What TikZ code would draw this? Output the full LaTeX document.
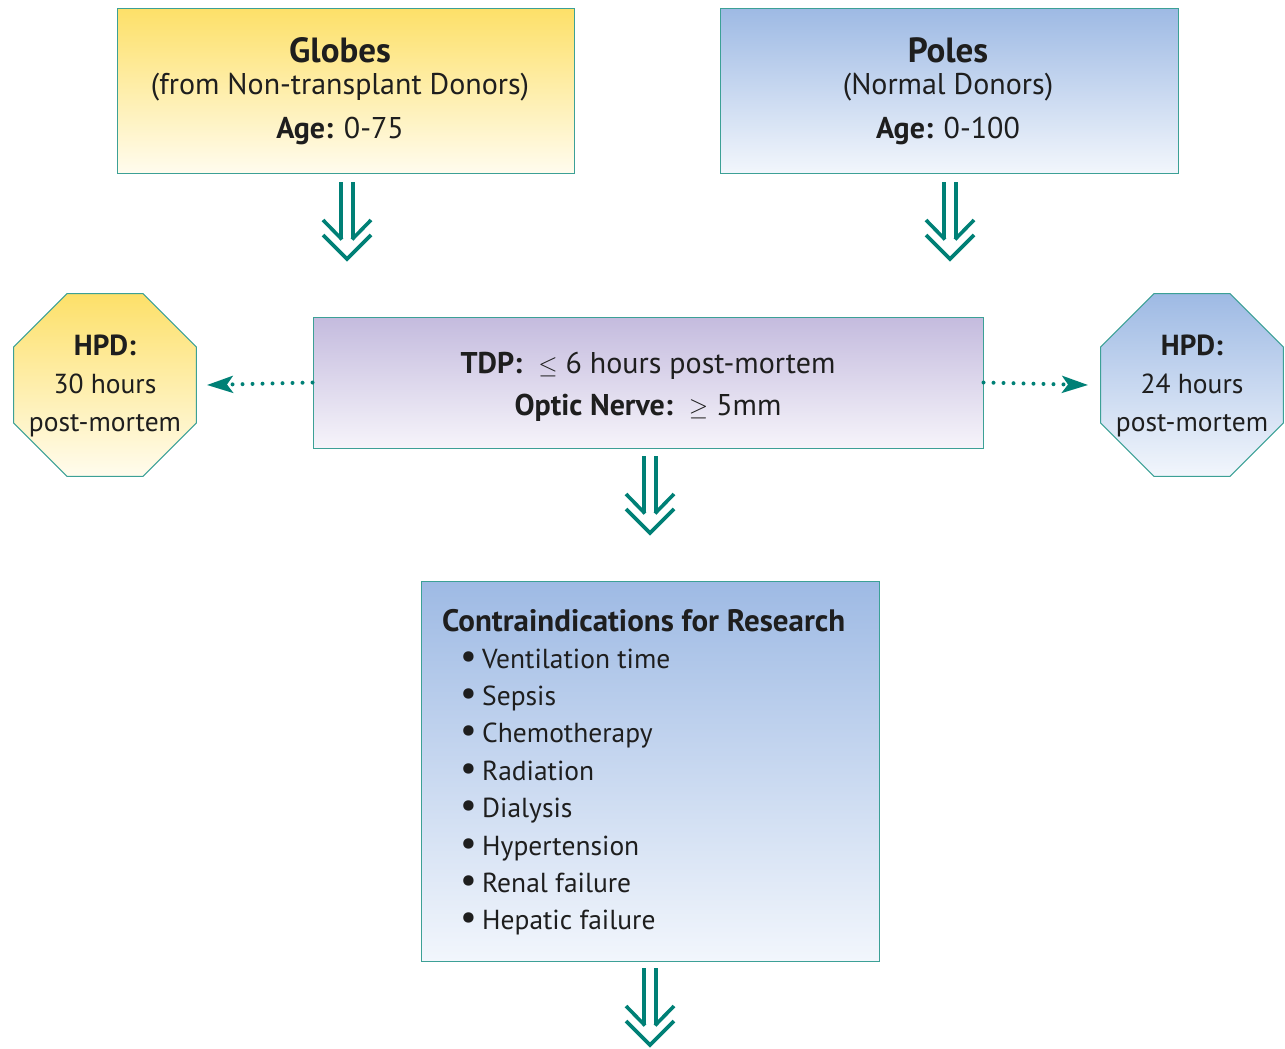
\documentclass[tikz,border=0pt]{standalone}
\usepackage{fontspec}
\usepackage{graphicx}
\setmainfont{PT Sans}
\usetikzlibrary{shapes.geometric,arrows.meta}
\definecolor{teal1}{RGB}{0,128,118}
\definecolor{boxline}{RGB}{60,160,150}
\definecolor{ytop}{RGB}{253,224,105}
\definecolor{ybot}{RGB}{255,252,238}
\definecolor{btop}{RGB}{158,186,228}
\definecolor{bbot}{RGB}{242,246,252}
\definecolor{ptop}{RGB}{196,187,222}
\definecolor{pbot}{RGB}{246,244,250}
\definecolor{txt}{RGB}{30,30,30}
\newcommand\fBig{\fontsize{35}{38}\selectfont}
\newcommand\fMid{\fontsize{30}{33}\selectfont}
\newcommand\fSm{\fontsize{27.5}{30}\selectfont}
\newcommand\fTitle{\fontsize{31}{34}\selectfont}
\newcommand\mybul{\makebox[22pt][l]{\scalebox{1.35}{\textbullet}}}
\tikzset{
  box/.style={draw=boxline, line width=1pt, inner sep=0pt, rectangle},
  octo/.style={draw=boxline, line width=1pt, inner sep=0pt, regular polygon, regular polygon sides=8, minimum size=198pt},
  lbl/.style={text=txt, inner sep=0pt, anchor=base},
  arr/.style={draw=teal1, line width=3.6pt},
  dotarrow/.style={draw=teal1, line width=4pt, line cap=round, dash pattern=on 0pt off 10pt, -{Stealth[length=26pt,width=17pt,inset=6pt,line cap=butt]}},
  dblarrow/.pic={
    \draw[arr] (-6,0) -- (-6,57);
    \draw[arr] (6,0) -- (6,57);
    \draw[arr] (-24,38) -- (-5,57.5);
    \draw[arr] (24,38) -- (5,57.5);
    \draw[arr, miter limit=10] (-24,53) -- (0,77) -- (24,53);
  }
}
\begin{document}
\begin{tikzpicture}[x=1pt,y=-1pt]
\useasboundingbox (0,0) rectangle (1285,1049);
% boxes
\node[box, top color=ytop, bottom color=ybot, minimum width=457pt, minimum height=164pt] (globes) at (345.5,91) {};
\node[box, top color=btop, bottom color=bbot, minimum width=458pt, minimum height=164pt] (poles) at (949,91) {};
\node[box, top color=ptop, bottom color=pbot, minimum width=670pt, minimum height=131pt] (tdp) at (648,382.5) {};
\node[box, top color=btop, bottom color=bbot, minimum width=458pt, minimum height=380pt] (contra) at (650,771) {};
\node[octo, top color=ytop, bottom color=ybot] (hpdl) at (105,385) {};
\node[octo, top color=btop, bottom color=bbot] (hpdr) at (1192,385) {};
% texts
\node[lbl] (g1) at (340,63) {\fBig\bfseries Globes};
\node[lbl] (g2) at (340,95) {\fMid (from Non-transplant Donors)};
\node[lbl] (g3) at (340,138) {\fMid\textbf{Age:} 0-75};
\node[lbl] (p1) at (948,63) {\fBig\bfseries Poles};
\node[lbl] (p2) at (948,95) {\fMid (Normal Donors)};
\node[lbl] (p3) at (948,138) {\fMid\textbf{Age:} 0-100};
\node[lbl] (t1) at (648,373) {\fMid\textbf{TDP:}\ \ $\leq$ 6 hours post-mortem};
\node[lbl] (t2) at (648,415) {\fMid\textbf{Optic Nerve:}\ \ $\geq$ 5mm};
\node[lbl] (l1) at (105,355) {\fontsize{29}{32}\selectfont\bfseries HPD:};
\node[lbl] (l2) at (105,393) {\fSm 30 hours};
\node[lbl] (l3) at (105,431) {\fSm post-mortem};
\node[lbl] (r1) at (1192,355) {\fontsize{29}{32}\selectfont\bfseries HPD:};
\node[lbl] (r2) at (1192,393) {\fSm 24 hours};
\node[lbl] (r3) at (1192,431) {\fSm post-mortem};
\node[lbl, anchor=base west] (c0) at (442,631) {\fTitle\bfseries Contraindications for Research};
\foreach \t [count=\i] in {Ventilation time, Sepsis, Chemotherapy, Radiation, Dialysis, Hypertension, Renal failure, Hepatic failure}{
  \node[lbl, anchor=base west] (c\i) at (460,668+37.4*\i-37.4) {\fSm\mybul\t};
}
% double arrows
\pic at (347,182) {dblarrow};
\pic at (950,182) {dblarrow};
\pic at (650,456) {dblarrow};
\pic at (650,968) {dblarrow};
% dotted arrows
\draw[dotarrow] (tdp.west) -- ([xshift=10pt]hpdl.east);
\draw[dotarrow] (tdp.east) -- ([xshift=-12pt]hpdr.west);
\end{tikzpicture}
\end{document}
